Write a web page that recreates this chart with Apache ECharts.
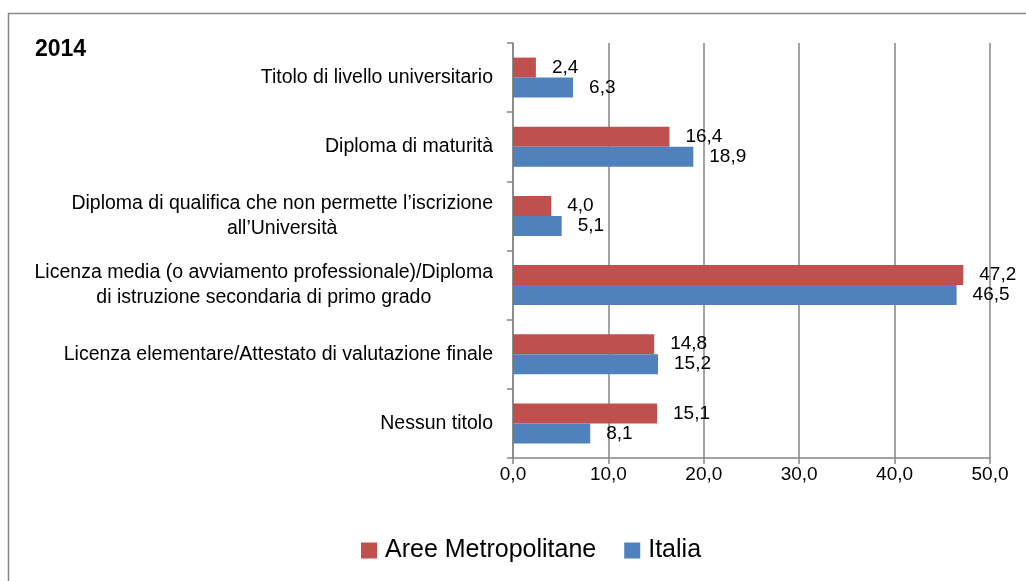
<!DOCTYPE html>
<html>
<head>
<meta charset="utf-8">
<script src="https://cdn.jsdelivr.net/npm/echarts@6/dist/echarts.min.js"></script>
<style>
  html, body { margin: 0; padding: 0; background: #fff; }
  #main { width: 1026px; height: 581px; }
</style>
</head>
<body>
<div id="main"></div>
<script>
// dati 2014
var categorie = [
    'Titolo di livello universitario',
    'Diploma di maturità',
    'Diploma di qualifica che non permette l’iscrizione\nall’Università',
    'Licenza media (o avviamento professionale)/Diploma\ndi istruzione secondaria di primo grado',
    'Licenza elementare/Attestato di valutazione finale',
    'Nessun titolo'
];
var areeMetropolitane = [2.4, 16.4, 4.0, 47.2, 14.8, 15.1];
var italia = [6.3, 18.9, 5.1, 46.5, 15.2, 8.1];
var tickX = [0, 10, 20, 30, 40, 50];

var font = 'Liberation Sans';
var grigio = '#868686';

function virgola(v) {
    return Number(v).toFixed(1).replace('.', ',');
}

var myChart = echarts.init(document.getElementById('main'));

var option = {
    animation: false,
    textStyle: { fontFamily: font },
    graphic: [{
        type: 'rect',
        shape: { x: 8.5, y: 13.5, width: 1040, height: 600 },
        style: { fill: 'none', stroke: grigio, lineWidth: 1.5 },
        silent: true
    }],
    title: {
        text: '2014',
        left: 35, top: 38, padding: 0,
        textStyle: { fontFamily: font, fontSize: 23, fontWeight: 'bold', color: '#000' }
    },
    legend: {
        top: 533,
        left: 356,
        icon: 'rect',
        itemWidth: 16, itemHeight: 16,
        itemGap: 28,
        textStyle: { fontFamily: font, fontSize: 25, color: '#000', padding: [0, 0, 0, 3] },
        data: ['Aree Metropolitane', 'Italia']
    },
    grid: { left: 513, right: 36, top: 43, bottom: 123 },
    xAxis: {
        type: 'value',
        min: tickX[0], max: tickX[tickX.length - 1], interval: 10,
        axisLine: { show: true, lineStyle: { color: grigio, width: 1.5 } },
        axisTick: { show: true, length: 6, lineStyle: { color: grigio, width: 1.5 } },
        splitLine: { show: true, lineStyle: { color: grigio, width: 1.5 } },
        axisLabel: {
            color: '#000', fontSize: 19, fontFamily: font, margin: 7,
            formatter: virgola
        }
    },
    yAxis: {
        type: 'category',
        inverse: true,
        data: categorie,
        axisLine: { show: true, lineStyle: { color: grigio, width: 1.5 } },
        axisTick: { show: true, length: 6, lineStyle: { color: grigio, width: 1.5 } },
        axisLabel: {
            color: '#000', fontFamily: font, fontSize: 19.5, margin: 20, lineHeight: 25,
            formatter: function (v) {
                return v.split('\n').map(function (r) { return '{c|' + r + '}'; }).join('\n');
            },
            rich: { c: { align: 'center', fontFamily: font, fontSize: 19.5, lineHeight: 25, color: '#000' } }
        }
    },
    series: [{
        name: 'Aree Metropolitane',
        type: 'bar',
        data: areeMetropolitane,
        barWidth: 20,
        barGap: '0%',
        itemStyle: { color: '#C0504D' },
        label: {
            show: true, position: 'right', distance: 16,
            color: '#000', fontSize: 19, fontFamily: font,
            formatter: function (p) { return virgola(p.value); }
        }
    }, {
        name: 'Italia',
        type: 'bar',
        data: italia,
        barWidth: 20,
        itemStyle: { color: '#4F81BD' },
        label: {
            show: true, position: 'right', distance: 16,
            color: '#000', fontSize: 19, fontFamily: font,
            formatter: function (p) { return virgola(p.value); }
        }
    }]
};

myChart.setOption(option);
</script>
</body>
</html>
